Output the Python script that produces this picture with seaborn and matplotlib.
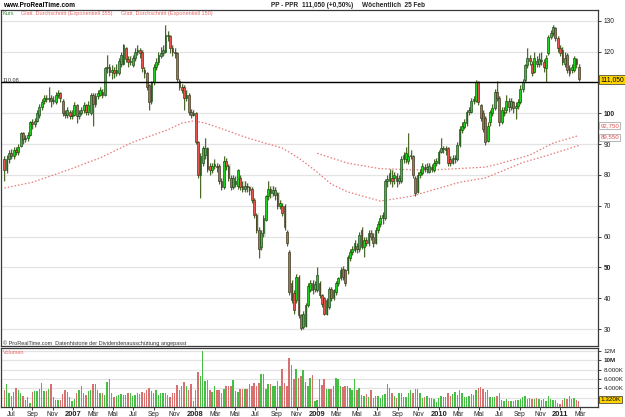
import numpy as np
import pandas as pd
import matplotlib
matplotlib.use("Agg")
import matplotlib.pyplot as plt
import matplotlib.transforms as mtrans
import seaborn as sns

# ---------------- data (weekly, first week ending 2006-06-09) ----------------
first_week = "2006-06-09"

opens = [85, 81.5, 85, 87, 86, 88, 87.5, 89.5, 93.5, 91.5,
         92, 93, 97, 96.5, 97.5, 99.5, 102, 104, 105, 104.5,
         105, 104, 103.5, 106, 106.5, 104, 100, 99.5, 100.5, 99,
         99.5, 102.5, 99, 100, 101, 102.5, 100.5, 100, 106, 103,
         105.5, 106, 107, 106, 114.5, 115, 113.5, 114, 113, 113,
         116, 116, 121, 117.5, 116.5, 115.6, 118, 120, 120.5, 120,
         114, 113, 109, 104, 110, 115, 116.5, 118.5, 119.5, 120,
         125.5, 125, 121, 120, 119.5, 110.5, 108.5, 108.5, 105, 106,
         100.5, 99.5, 100, 90.6, 80, 84, 86.4, 88.6, 83, 81.5,
         83, 83, 83, 78, 76, 84.5, 83, 79, 76, 77,
         76.5, 79, 76.5, 75.5, 76.5, 76, 75.5, 72, 67, 62,
         56.6, 61, 65.5, 73, 75.5, 74, 73.5, 74, 70, 70,
         70, 61.4, 55, 45, 41.7, 39.4, 47, 34.5, 30.6, 31,
         37.7, 42.6, 45, 43, 42.6, 45, 41, 40, 35, 37,
         43, 40, 42, 45, 46.5, 49.6, 49, 49, 53, 55,
         55.6, 57, 56, 62, 56.5, 59, 58, 61, 60, 58,
         62, 64, 66, 66, 78, 78, 79, 79, 79.5, 78,
         78, 85, 85, 84.5, 86, 86, 79, 74.4, 80, 80.6,
         82.5, 82, 81, 82.5, 81.5, 84, 84, 87.4, 88.6, 88.6,
         88.6, 85.3, 84, 85, 85, 89.6, 94.5, 95.5, 96.8, 100.4,
         100.4, 104, 104, 110, 102.6, 100, 98.4, 91, 97, 100,
         101.7, 107, 105, 97, 100, 101, 104, 102, 103.6, 101.7,
         102.3, 103.6, 108, 110.8, 115.6, 118, 116, 113.4, 117, 116,
         117, 116.6, 114.6, 119.5, 124.7, 126, 127.6, 124.4, 121, 120.5,
         116, 119, 114.6, 114, 114, 117.5, 115]

closes = [81.5, 85, 87, 86, 88, 87.5, 89, 93.5, 91.5, 92,
          93, 97, 96.5, 97.5, 100, 102, 103.6, 105, 104.5, 105,
          104, 104.2, 106, 106.5, 105, 100, 99.5, 101, 99, 99.5,
          102.5, 99, 100, 101, 102.5, 100.5, 102.5, 106, 103, 105.5,
          106.5, 107.5, 106, 114.5, 115, 113.5, 114, 113, 114, 117,
          119, 122, 117.5, 116.5, 117, 118, 120, 120.5, 119.5, 114.6,
          113, 108.5, 103.5, 110, 115, 116.5, 119, 119.5, 120.5, 125.5,
          125, 121, 120, 119.5, 111, 108.5, 107.5, 105, 106, 100.5,
          99.5, 100, 90.6, 80, 86, 88.6, 88.6, 82, 81.5, 83,
          83.5, 82.5, 78, 76, 84.5, 83, 79, 76, 79, 78,
          81.5, 76, 75.5, 76.5, 76, 75, 72, 67, 62, 56,
          61, 66, 73, 75.5, 74, 75, 75, 70, 71, 67.6,
          63, 57.8, 42, 39.4, 36.3, 47, 34.5, 30.3, 35, 37.7,
          44, 45, 42.6, 44.5, 47.5, 41, 38, 35, 39.4, 43,
          40, 42.5, 45, 46.5, 49, 47, 45, 53.3, 55, 56,
          57.8, 56, 60.4, 56.6, 59, 58, 61, 60, 58, 62,
          64, 66, 67, 78, 78.5, 80.6, 78, 80, 78, 79,
          85, 86.4, 87, 86, 86.5, 80, 74, 80, 81, 83,
          82, 82.5, 83, 82, 84, 84.5, 87.4, 88.6, 88.3, 88,
          84, 84, 85.5, 85.5, 89.6, 95, 96, 97, 100.4, 101,
          104, 104.5, 110, 103.5, 98.4, 95, 90.6, 96, 100.4, 101.7,
          107, 105, 97, 101, 100.5, 104, 102, 104, 101.7, 102.3,
          103.6, 108, 110, 115.6, 118, 117, 113, 118, 116, 117.5,
          117.3, 115, 118, 124.7, 126, 128, 124.4, 121, 119.5, 116.6,
          118, 114, 113, 115, 118, 116, 111.05]

highs = [86, 86.5, 88, 88.5, 89, 89, 90, 94, 94, 93,
         94, 97.5, 98, 98.5, 101, 103, 104.5, 106, 106, 108.5,
         106, 105.5, 107, 107.5, 107, 104.5, 101, 102, 101, 101,
         103.5, 103, 101, 102, 103.5, 103, 104, 106.5, 106.5, 106.5,
         107.5, 108.5, 108, 115, 119, 116, 115.5, 115, 116, 118,
         120, 122.5, 121.5, 118.5, 118.5, 119, 121, 122, 121, 120.5,
         115, 113.5, 109.5, 110.5, 116, 118, 120, 121.5, 122, 128.6,
         126.5, 125.5, 122, 121, 120, 111, 109.5, 109, 107.5, 106.5,
         101.5, 101, 100.5, 91, 87, 89.5, 92, 89, 84, 84,
         85, 84, 83.5, 79, 86, 85.5, 83.5, 80, 80, 79.5,
         82, 80, 78, 78, 77.5, 76.5, 76, 72.5, 67.5, 63,
         62, 67, 73.5, 78, 76.5, 76.5, 76, 74.5, 72, 71,
         70.5, 62, 55.5, 46, 42.5, 48, 47.5, 35, 36, 38.5,
         45, 46, 46, 45.5, 50, 45.5, 41.5, 40.5, 40, 43.5,
         43.5, 43, 45.5, 47, 50, 50.5, 49.5, 54, 56, 57,
         59, 58, 61.5, 63, 60, 60, 62, 62, 61, 63,
         65, 67, 68, 78.5, 80, 82, 81.5, 81, 80.5, 80,
         86, 87.5, 89, 93.6, 88, 86.5, 79.5, 81, 82, 84,
         83.5, 84, 84, 83.5, 85, 85.5, 88, 92, 89.5, 89.5,
         89, 86, 86.5, 86.5, 90.5, 96, 97, 98, 101, 102,
         105, 105.5, 110.8, 110.5, 103, 101, 99, 97, 101, 103,
         108, 110.5, 105.5, 102, 102, 106, 105, 105, 104, 103.5,
         104.5, 109, 111, 116, 121, 119, 117, 120, 118.5, 119.5,
         120, 117.5, 119, 125.5, 127, 128.5, 128, 125, 122, 121.5,
         120, 119.5, 115.5, 116, 118.5, 118, 116]

lows = [78, 80.5, 84, 85, 85, 86.5, 86.5, 89, 90, 90.5,
        91, 92.5, 95, 95.5, 97, 98.5, 101, 103, 103.5, 103.5,
        102, 103, 103, 105, 103.5, 99, 98.5, 98.5, 98, 98,
        99, 96.8, 98, 99.5, 100, 99.5, 99.5, 99.5, 96, 102,
        104.5, 105.5, 105, 105.5, 113, 112, 111, 111.5, 112, 112.5,
        115, 115.5, 116.5, 115, 115.5, 115, 117, 119, 118, 113.5,
        111.5, 107.5, 101, 103, 109, 114, 115.5, 118, 118.5, 119.5,
        123.5, 119.5, 118.5, 118, 110, 107.5, 106.5, 101, 104, 99.5,
        98.5, 99, 90, 79, 72.5, 83, 85, 81, 80, 80.5,
        82, 81, 77, 75, 75.5, 81.5, 78, 75, 75.5, 76,
        75.5, 75, 74.5, 74.5, 74.5, 73.5, 71, 66, 61, 53,
        55.5, 60, 65, 72, 72.5, 73, 72, 69, 69, 66.5,
        62, 57, 41, 38.5, 35, 38.5, 33.5, 29.8, 30, 30.5,
        37, 42, 41.5, 42, 42, 40, 37, 34.5, 34.5, 36.5,
        39, 39.5, 41, 44, 46, 46, 44, 48, 52, 54,
        55, 54.5, 55, 56, 53.5, 57, 57, 59, 56.5, 57.5,
        61, 63, 64, 65.5, 76, 77, 76, 77, 76, 77,
        77.5, 84, 84, 83.5, 85, 79, 73, 74, 79, 80,
        81, 80.5, 80.5, 81, 81, 83, 83.5, 87, 87, 86.5,
        83, 83, 83.5, 84, 84.5, 89, 93.5, 95, 96, 99.5,
        100, 103, 103.5, 102.5, 97.5, 94, 89.6, 90.5, 96, 99,
        101, 104, 96, 96.5, 99, 100, 100.5, 101, 100, 98,
        101.5, 103, 107, 110, 114.5, 115.5, 112, 113, 115, 115,
        115.5, 113.5, 110, 119, 124, 125, 123.5, 120, 118.5, 115.5,
        115, 113, 112, 113, 113.5, 114.5, 110.3]

volume_m = [3.7, 5.0, 2.9, 2.3, 3.2, 4.0, 3.6, 2.9, 2.4, 1.4,
            2.1, 0.9, 3.3, 3.4, 3.4, 3.9, 5.1, 3.4, 3.4, 3.9,
            5.0, 2.1, 1.6, 1.6, 1.4, 2.7, 3.6, 3.2, 2.1, 1.3,
            1.8, 2.9, 3.7, 4.4, 2.9, 2.6, 3.4, 3.7, 5.0, 5.0,
            3.6, 3.0, 2.9, 2.5, 5.4, 5.9, 2.9, 2.1, 2.4, 2.6,
            2.7, 2.6, 2.5, 3.1, 2.9, 2.3, 2.6, 2.9, 2.7, 3.2,
            3.1, 3.7, 4.1, 3.4, 3.0, 3.7, 2.5, 3.1, 3.0, 2.9,
            2.5, 2.1, 2.9, 3.0, 4.7, 3.6, 4.4, 5.4, 4.4, 3.7,
            4.9, 1.2, 3.6, 7.4, 6.6, 11.9, 5.6, 5.7, 3.7, 3.2,
            4.4, 3.6, 3.7, 3.0, 3.9, 4.4, 4.4, 4.4, 5.7, 3.4,
            3.3, 3.9, 3.9, 3.9, 3.9, 5.0, 4.6, 5.2, 4.6, 5.2,
            7.1, 7.0, 3.9, 4.9, 4.9, 4.6, 4.4, 5.6, 4.6, 8.1,
            5.2, 4.6, 10.4, 8.9, 5.9, 8.1, 6.2, 6.6, 7.9, 5.3,
            4.6, 6.3, 6.8, 1.2, 1.6, 5.9,
            4.8, 5.9, 3.9, 3.9, 3.9, 4.6, 6.3, 6.0, 4.4, 4.3,
            4.6, 4.6, 4.0, 3.6, 5.9, 3.7, 4.1, 2.6, 2.3, 2.7,
            2.1, 3.6, 2.0, 2.4, 2.4, 1.9, 2.5, 2.7, 5.0, 4.1,
            3.1, 2.3, 2.0, 2.9, 3.1, 2.1, 2.1, 2.9, 3.6, 2.9,
            3.8, 3.8, 3.1, 2.0, 2.1, 2.3, 1.9, 1.9, 1.8, 1.1,
            1.9, 2.3, 2.1, 2.1, 2.9, 2.3, 2.7, 3.2, 2.6, 3.6,
            3.0, 2.1, 2.1, 2.4, 2.7, 2.6, 3.7, 4.1, 4.3, 3.9,
            3.2, 3.7, 2.1, 2.1, 2.1, 2.3, 3.0, 1.4, 1.3, 1.8,
            1.3, 1.2, 1.2, 1.6, 1.6, 1.8, 2.1, 2.3, 1.8, 1.9,
            1.8, 1.7, 1.9, 1.8, 1.6, 1.8, 1.2, 2.4, 1.8, 1.6,
            1.4, 0.9, 0.6, 1.4, 2.0, 1.8, 2.3, 1.7, 1.9, 1.6,
            1.32]

ema150_dates = ["2006-06-09", "2006-09-01", "2006-12-15", "2007-03-23", "2007-06-29",
                "2007-10-12", "2007-11-23", "2007-12-28", "2008-02-01", "2008-03-21",
                "2008-06-06", "2008-09-19", "2008-11-07", "2008-12-26", "2009-02-13",
                "2009-04-03", "2009-07-10", "2009-10-09", "2010-03-05", "2010-05-21",
                "2010-09-10", "2010-11-26", "2011-02-25"]
ema150_vals = [75.7, 77.6, 81.5, 85.5, 90.6,
               94.6, 96.8, 97.5, 96.8, 95.0,
               92.0, 88.7, 85.5, 81.5, 77.0,
               74.5, 71.5, 73.0, 77.6, 79.0,
               84.0, 86.4, 89.55]

ema355_dates = ["2009-01-02", "2009-04-03", "2009-07-10", "2009-11-27", "2010-05-21",
                "2010-06-25", "2010-10-01", "2010-12-10", "2011-02-25"]
ema355_vals = [87.0, 83.8, 82.0, 81.5, 82.5,
               83.4, 86.4, 90.3, 92.75]

month_ticks = ["2006-07-01", "2006-09-01", "2006-11-01", "2007-01-01", "2007-03-01", "2007-05-01",
               "2007-07-01", "2007-09-01", "2007-11-01", "2008-01-01", "2008-03-01", "2008-05-01",
               "2008-07-01", "2008-09-01", "2008-11-01", "2009-01-01", "2009-03-01", "2009-05-01",
               "2009-07-01", "2009-09-01", "2009-11-01", "2010-01-01", "2010-03-01", "2010-05-01",
               "2010-07-01", "2010-09-01", "2010-11-01", "2011-01-01", "2011-03-01"]
month_labels = ["Jul", "Sep", "Nov", "2007", "Mär", "Mai", "Jul", "Sep", "Nov", "2008",
                "Mär", "Mai", "Jul", "Sep", "Nov", "2009", "Mär", "Mai", "Jul", "Sep",
                "Nov", "2010", "Mär", "Mai", "Jul", "Sep", "Nov", "2011", "Mär"]

price_ticks = [30, 40, 50, 60, 70, 80, 90, 100, 110, 120, 130]
price_tick_labels = ["30", "40", "50", "60", "70", "80", "90", "100", "", "120", "130"]
vol_ticks = [2, 4, 6, 8, 10, 12]
vol_tick_labels = ["", "4.000K", "6.000K", "8.000K", "10M", "12M"]

last_price = 111.05
hline_level = 110.08
ema_end_labels = ["92,750", "89,550"]

# ---------------- helpers ----------------
n = len(closes)
assert len(opens) == n == len(highs) == len(lows) == len(volume_m)
t0 = pd.Timestamp(first_week)


def week_pos(dates):
    return np.array([(pd.Timestamp(d) - t0).days / 7.0 for d in dates])


idx = np.arange(n)
O = np.array(opens, float)
C = np.array(closes, float)
Hh = np.array(highs, float)
Ll = np.array(lows, float)
up = C >= O

W, Hpx = 625, 417
sns.set_style("white")
plt.rcParams["font.family"] = ["Liberation Sans", "DejaVu Sans"]

fig = plt.figure(figsize=(W / 100, Hpx / 100), dpi=100)
fig.patch.set_facecolor("white")


def fy(p):
    return 1 - p / Hpx


ax = fig.add_axes([1 / W, fy(346), 597 / W, (346 - 10) / Hpx])
axv = fig.add_axes([1 / W, fy(407), 597 / W, (407 - 348) / Hpx])

xlo, xhi = (1 - 4.3) / 2.335, (598 - 4.3) / 2.335

GREEN = "#1fd11f"
RED = "#e8524f"
EDGE = "#233d1c"
WICK = "#4c6a2c"

# ---------------- price panel ----------------
ax.set_facecolor("white")
for yv in price_ticks:
    ax.axhline(yv, color="#e3e3e3", lw=0.9, zorder=0)

ax.bar(idx + 0.45, Hh - Ll, bottom=Ll, width=0.85, color="#cdd5c6", alpha=0.75,
       linewidth=0, zorder=1)
ax.vlines(idx, Ll, Hh, color=WICK, lw=0.75, zorder=3)
body = np.maximum(np.abs(C - O), 0.25)
ax.bar(idx, body, bottom=np.minimum(O, C), width=0.74,
       color=np.where(up, GREEN, RED), edgecolor=EDGE, linewidth=0.45, zorder=4)

e150 = pd.DataFrame({"w": week_pos(ema150_dates), "v": ema150_vals})
e355 = pd.DataFrame({"w": week_pos(ema355_dates), "v": ema355_vals})
sns.lineplot(data=e150, x="w", y="v", ax=ax, color="#e87a7a", lw=0.9,
             linestyle=(0, (1.2, 1.6)), zorder=2)
sns.lineplot(data=e355, x="w", y="v", ax=ax, color="#e87a7a", lw=0.9,
             linestyle=(0, (1.2, 1.6)), zorder=2)

ax.axhline(hline_level, color="black", lw=1.0, zorder=5)

ax.set_xlim(xlo, xhi)
ax.set_ylim(24.49, 133.47)
ax.set_xlabel("")
ax.set_ylabel("")
ax.set_xticks([])
ax.yaxis.tick_right()
ax.set_yticks(price_ticks)
ax.set_yticklabels(price_tick_labels)
ax.tick_params(axis="y", right=True, length=2.5, width=0.6, pad=1.5,
               labelsize=4.8, colors="#222222")
for lab, v in zip(ax.get_yticklabels(), price_ticks):
    if v in (100, 50):
        lab.set_fontweight("bold")
for s in ax.spines.values():
    s.set_color("#3a3a3a")
    s.set_linewidth(0.9)

tr = mtrans.blended_transform_factory(ax.transAxes, ax.transData)
ax.text(1.004, last_price, "111,050", transform=tr, ha="left", va="center",
        fontsize=4.9, color="black", zorder=10, clip_on=False,
        bbox=dict(boxstyle="square,pad=0.15", fc="#ffd400", ec="#333333", lw=0.5))
ax.text(1.004, 96.0, ema_end_labels[0], transform=tr, ha="left", va="center",
        fontsize=4.4, color="#e05050", zorder=10, clip_on=False,
        bbox=dict(boxstyle="square,pad=0.15", fc="white", ec="#999999", lw=0.5))
ax.text(1.004, 92.2, ema_end_labels[1], transform=tr, ha="left", va="center",
        fontsize=4.4, color="#e05050", zorder=10, clip_on=False,
        bbox=dict(boxstyle="square,pad=0.15", fc="white", ec="#999999", lw=0.5))

# ---------------- volume panel ----------------
vdf = pd.DataFrame({"w": idx, "vol": volume_m,
                    "dir": np.where(up, "up", "down")})
sns.barplot(data=vdf, x="w", y="vol", hue="dir", palette={"up": "#2fd42f", "down": "#ea5f5f"},
            native_scale=True, dodge=False, width=0.62, errorbar=None, legend=False,
            linewidth=0, ax=axv, zorder=3)
for yv in vol_ticks:
    axv.axhline(yv, color="#e3e3e3", lw=0.9, zorder=0)
axv.set_xlim(xlo, xhi)
axv.set_ylim(0, 12.63)
axv.set_xlabel("")
axv.set_ylabel("")
axv.yaxis.tick_right()
axv.set_yticks(vol_ticks)
axv.set_yticklabels(vol_tick_labels)
axv.tick_params(axis="y", right=True, length=2.5, width=0.6, pad=1.5,
                labelsize=4.5, colors="#222222")
for lab, v in zip(axv.get_yticklabels(), vol_ticks):
    if v == 10:
        lab.set_fontweight("bold")
axv.set_xticks(week_pos(month_ticks))
axv.set_xticklabels(month_labels)
axv.tick_params(axis="x", bottom=True, length=2, width=0.6, pad=1.2,
                labelsize=4.8, colors="#222222")
for lab in axv.get_xticklabels():
    if lab.get_text().isdigit():
        lab.set_fontweight("bold")
        lab.set_fontsize(5.4)
for s in axv.spines.values():
    s.set_color("#3a3a3a")
    s.set_linewidth(0.9)

trv = mtrans.blended_transform_factory(axv.transAxes, axv.transData)
axv.text(1.004, volume_m[-1] + 0.3, "1.320K", transform=trv, ha="left", va="center",
         fontsize=4.6, color="black", zorder=10, clip_on=False,
         bbox=dict(boxstyle="square,pad=0.15", fc="#ffd400", ec="#333333", lw=0.5))

# ---------------- texts ----------------
HDR = 4.7
fig.text(3 / W, fy(5.5), "www.ProRealTime.com", fontsize=HDR, fontweight="bold",
         va="center", ha="left", color="black")
fig.text(271 / W, fy(5.5), "PP - PPR", fontsize=HDR, fontweight="bold",
         va="center", ha="left")
fig.text(302 / W, fy(5.5), "111,050 (+0,50%)", fontsize=HDR, fontweight="bold",
         va="center", ha="left")
fig.text(362 / W, fy(5.5), "Wöchentlich  25 Feb", fontsize=HDR, fontweight="bold",
         va="center", ha="left")
SM = 3.95
fig.text(3 / W, fy(13.5), "Kurs", fontsize=SM, color="#3b8a3b", va="center", ha="left")
fig.text(21 / W, fy(13.5), "Glatt. Durchschnitt (Exponentiell 355)", fontsize=SM,
         color="#e46a6a", va="center", ha="left")
fig.text(121 / W, fy(13.5), "Glatt. Durchschnitt (Exponentiell 150)", fontsize=SM,
         color="#e46a6a", va="center", ha="left")
fig.text(3 / W, fy(79.5), "110,08", fontsize=SM, color="#333333", va="center", ha="left")
fig.text(3 / W, fy(343), "© ProRealTime.com  Datenhistorie der Dividendenausschüttung angepasst",
         fontsize=SM, color="#333333", va="center", ha="left")
fig.text(3 / W, fy(352.5), "Volumen", fontsize=SM, color="#e46a6a", va="center", ha="left")

fig.savefig("out.png", dpi=100, facecolor="white")
